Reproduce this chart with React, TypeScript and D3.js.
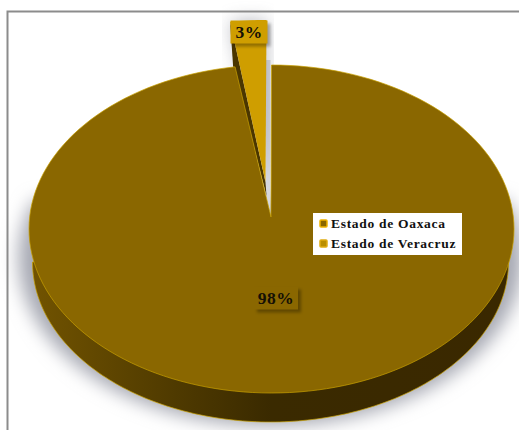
import React from "react";
import * as d3 from "d3";

const categories = ["Estado de Oaxaca", "Estado de Veracruz"];
const values = [97.6, 2.4];
const sliceLabels = ["98%", "3%"];
const legendFill = ["#8a6700", "#b98e00"];
const legendEdge = ["#f0b400", "#e0ac10"];
const FONT = "'Liberation Serif', serif";

const rx = 242.5, ry = 164, cx = 270.5, cy = 229;
const baseRx = 238, baseRy = 160, baseCy = 262;
const bigApex: [number, number] = [271, 217];
const wedgeApex: [number, number] = [265.5, 182];
const wedgeCx = 266.5, wedgeCy = 184;

const arcs = d3.pie<number>().sort(null).startAngle(0).endAngle(2 * Math.PI)(values);
const line = d3.line<[number, number]>();

function rim(a0: number, a1: number, x0: number, y0: number, rX = rx, rY = ry, n = 160): [number, number][] {
  return d3.range(n + 1).map((i) => {
    const a = a0 + ((a1 - a0) * i) / n;
    return [x0 + rX * Math.sin(a), y0 - rY * Math.cos(a)] as [number, number];
  });
}

function Label({ x, y, w, h, text, fill, size, shade }: { x: number; y: number; w: number; h: number; text: string; fill: string; size: number; shade: number }) {
  return (
    <g>
      <rect x={x - w / 2 + 3} y={y - h / 2 + 3} width={w} height={h} fill="#000" opacity={shade} filter="url(#soft)" />
      <rect x={x - w / 2} y={y - h / 2} width={w} height={h} fill={fill} />
      <text x={x} y={y + size * 0.33} textAnchor="middle" fontFamily={FONT} fontWeight="bold" fontSize={size} letterSpacing={0.5} fill="#151005">
        {text}
      </text>
    </g>
  );
}

export default function App() {
  const big = arcs[0];
  const small = arcs[1];
  const bigTop = rim(big.startAngle, big.endAngle, cx + 1, cy);
  const base = rim(Math.PI / 2, (3 * Math.PI) / 2, cx, baseCy, baseRx, baseRy);
  const shadow = rim(Math.PI / 2 - 0.35, (3 * Math.PI) / 2 + 0.35, cx, baseCy - 4, baseRx + 14, baseRy + 8);
  const wRim = rim(small.startAngle, small.endAngle, wedgeCx, wedgeCy, rx, ry, 8);
  const wLeft = wRim[0];
  const wedgeFace = [wedgeApex, ...wRim];
  const wedgeSide: [number, number][] = [wLeft, wedgeApex, [wedgeApex[0] + 1, wedgeApex[1] + 14], [wLeft[0] + 3, wLeft[1] + 44]];
  const legendY = [224, 244];

  return (
    <svg width={519} height={430} style={{ position: "absolute", left: 0, top: 0 }}>
      <defs>
        <filter id="soft" x="-30%" y="-30%" width="160%" height="160%">
          <feGaussianBlur stdDeviation={1.8} />
        </filter>
        <filter id="shadow" x="-20%" y="-20%" width="140%" height="140%">
          <feGaussianBlur stdDeviation={9} />
        </filter>
        <linearGradient id="wall" x1="0" x2="1" y1="0" y2="0">
          <stop offset="0" stopColor="#715300" />
          <stop offset="0.3" stopColor="#4f3a00" />
          <stop offset="0.5" stopColor="#3a2a00" />
          <stop offset="1" stopColor="#3a2800" />
        </linearGradient>
      </defs>
      <rect x={0} y={0} width={519} height={430} fill="#fff" />
      <path d={line(shadow)! + "Z"} fill="#a6a8b2" filter="url(#shadow)" />
      <path d={line([[wedgeApex[0] + 5, 60], [wedgeApex[0] + 5, 215], [wedgeApex[0], 215], [wedgeApex[0], 60]])! + "Z"} fill="#d6d8de" />
      <path d={line(wedgeFace)! + "Z"} fill="#6f7280" opacity={0.5} filter="url(#shadow)" />
      <path d="M7.5 430V11.5H519" fill="none" stroke="#8c8c8c" strokeWidth={2} />

      <path d={line(wedgeSide)! + "Z"} fill="#4a3600" />
      <path d={line(wedgeFace)! + "Z"} fill="#cf9e00" />

      <path d={line(base)! + "Z"} fill="url(#wall)" stroke="#c9a000" strokeWidth={0.7} />
      <path d={line([bigApex, ...bigTop])! + "Z"} fill="#8a6700" stroke="#c9a000" strokeWidth={0.7} />

      <Label x={249} y={32} w={37} h={23} text={sliceLabels[1]} fill="#cf9e00" size={17.5} shade={0.3} />
      <Label x={276} y={298} w={44} h={23} text={sliceLabels[0]} fill="#8a6700" size={17.5} shade={0.3} />

      <rect x={313} y={213} width={149} height={42} fill="#fff" />
      {categories.map((c, i) => (
        <g key={c}>
          <rect x={320} y={legendY[i] - 4} width={7} height={7} fill={legendFill[i]} stroke={legendEdge[i]} strokeWidth={1.5} rx={1} />
          <text x={331} y={legendY[i] + 4} fontFamily={FONT} fontWeight="bold" fontSize={13.5} letterSpacing={0.7} fill="#111">
            {c}
          </text>
        </g>
      ))}
    </svg>
  );
}
